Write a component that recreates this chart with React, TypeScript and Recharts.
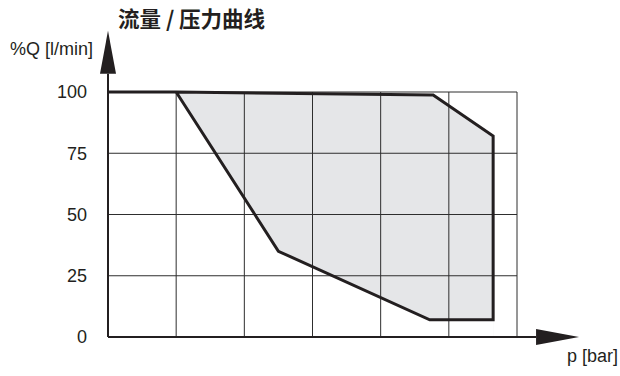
import { ComposedChart, Area, Line, XAxis, YAxis, ReferenceLine } from 'recharts';

// p (bar) is shown on a unitless 0..6 grid, flow in %
const pTicks = [0, 1, 2, 3, 4, 5, 6];
const qTicks = [0, 25, 50, 75, 100];

// boundaries of the shaded working range
const leadP = [0, 1];
const leadQ = [100, 100];
const upperP = [1, 4.77, 5.65];
const upperQ = [100, 98.8, 82];
const lowerP = [1, 2.5, 4.72, 5.65];
const lowerQ = [100, 35, 7, 7];

const toPoints = (ps: number[], qs: number[]) => ps.map((p, i) => ({ p, q: qs[i] }));

const upperData = toPoints(upperP, upperQ);
const lowerData = toPoints(lowerP, lowerQ);
// outline runs lead-in -> upper edge -> down the right side -> lower edge back
const outlineData = [
  ...toPoints(leadP, leadQ),
  ...upperData.slice(1),
  ...lowerData.slice().reverse(),
];

const X_ARROW_TIP = 6.91;
const Y_ARROW_TIP = 125;

const INK = '#231f20';
const GRID = '#2e2e2e';
const FONT = '"Liberation Sans", Arial, sans-serif';

function ArrowLine(props: any) {
  const { x1, y1, x2, y2 } = props;
  const dx = x2 - x1;
  const dy = y2 - y1;
  const len = Math.hypot(dx, dy) || 1;
  const ux = dx / len;
  const uy = dy / len;
  const head = 43;
  const half = 8;
  const bx = x2 - ux * head;
  const by = y2 - uy * head;
  const px = -uy;
  const py = ux;
  return (
    <g>
      <line x1={x1} y1={y1} x2={bx} y2={by} stroke={INK} strokeWidth={2} />
      <polygon
        points={`${x2},${y2} ${bx + px * half},${by + py * half} ${bx - px * half},${by - py * half}`}
        fill={INK}
      />
    </g>
  );
}

export default function App() {
  return (
    <div style={{ position: 'absolute', left: 0, top: 0, width: 620, height: 376, background: '#fff' }}>
      <ComposedChart
        width={620}
        height={376}
        margin={{ top: 92, right: 103, bottom: 39, left: 0 }}
      >
        <XAxis
          type="number"
          dataKey="p"
          domain={[0, 6]}
          ticks={pTicks}
          interval={0}
          tick={false}
          tickLine={false}
          axisLine={false}
          height={0}
        />
        <YAxis
          type="number"
          dataKey="q"
          domain={[0, 100]}
          ticks={qTicks}
          interval={0}
          width={108}
          axisLine={false}
          tickLine={false}
          tickSize={0}
          tickMargin={21}
          tick={{ fill: INK, fontSize: 18, fontFamily: FONT }}
        />
        <Area
          data={upperData}
          dataKey="q"
          type="linear"
          stroke="none"
          fill="#e5e6e8"
          fillOpacity={1}
          isAnimationActive={false}
        />
        <Area
          data={lowerData}
          dataKey="q"
          type="linear"
          stroke="none"
          fill="#ffffff"
          fillOpacity={1}
          isAnimationActive={false}
        />
        {pTicks.slice(1).map((v) => (
          <ReferenceLine key={`v${v}`} x={v} stroke={GRID} strokeWidth={1} />
        ))}
        {qTicks.slice(1).map((v) => (
          <ReferenceLine key={`h${v}`} y={v} stroke={GRID} strokeWidth={1} />
        ))}
        <Line
          data={outlineData}
          dataKey="q"
          type="linear"
          stroke={INK}
          strokeWidth={3}
          strokeLinejoin="miter"
          dot={false}
          activeDot={false}
          isAnimationActive={false}
        />
        <ReferenceLine
          segment={[{ x: 0, y: 0 }, { x: 0, y: Y_ARROW_TIP }]}
          ifOverflow="visible"
          shape={ArrowLine}
        />
        <ReferenceLine
          segment={[{ x: 0, y: 0 }, { x: X_ARROW_TIP, y: 0 }]}
          ifOverflow="visible"
          shape={ArrowLine}
        />
      </ComposedChart>
      <svg
        width={620}
        height={376}
        style={{ position: 'absolute', left: 0, top: 0, pointerEvents: 'none' }}
      >
        <text x={118} y={27} fontSize={21.5} fontWeight="bold" fill={INK} fontFamily='"Noto Sans CJK SC", sans-serif'>
          流量 / 压力曲线
        </text>
        <text x={93} y={55} fontSize={18} fill={INK} fontFamily={FONT} textAnchor="end">
          %Q [l/min]
        </text>
        <text x={618} y={362} fontSize={18} fill={INK} fontFamily={FONT} textAnchor="end">
          p [bar]
        </text>
      </svg>
    </div>
  );
}
